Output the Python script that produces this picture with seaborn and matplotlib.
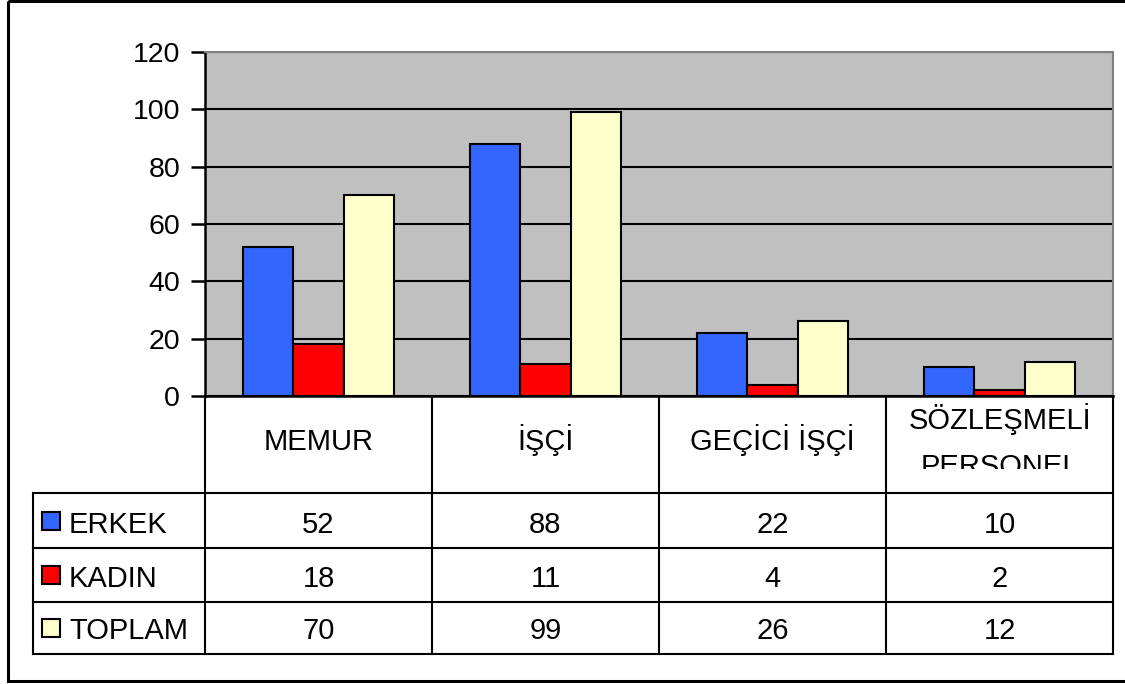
import pandas as pd
import matplotlib.pyplot as plt
import matplotlib.patches as mpatches
import seaborn as sns

# Data
categories = ["MEMUR", "İŞÇİ", "GEÇİCİ İŞÇİ", "SÖZLEŞMELİ PERSONEL"]
series = ["ERKEK", "KADIN", "TOPLAM"]
erkek = [52, 88, 22, 10]
kadin = [18, 11, 4, 2]
toplam = [70, 99, 26, 12]
colors = ["#3366FF", "#FF0000", "#FFFFCC"]
yticks = [0, 20, 40, 60, 80, 100, 120]

values = {"ERKEK": erkek, "KADIN": kadin, "TOPLAM": toplam}
rows = []
for s in series:
    for c, v in zip(categories, values[s]):
        rows.append({"kategori": c, "seri": s, "deger": v})
df = pd.DataFrame(rows)

plt.rcParams["font.family"] = ["Liberation Sans", "DejaVu Sans"]
plt.rcParams["font.size"] = 20

W, H = 1125, 684
fig = plt.figure(figsize=(W / 100, H / 100), dpi=100)

# layout in pixels
pl, pr, pt, pb = 205, 1113, 52, 396
ax = fig.add_axes([pl / W, 1 - pb / H, (pr - pl) / W, (pb - pt) / H])
ax.set_facecolor("#C0C0C0")

sns.barplot(data=df, x="kategori", y="deger", hue="seri", palette=colors,
            width=2 / 3, edgecolor="black", linewidth=1.5, saturation=1,
            legend=False, ax=ax)

ax.set_ylim(0, 120)
ax.set_yticks(yticks)
ax.set_xticks([])
ax.set_xlabel("")
ax.set_ylabel("")
ax.yaxis.grid(True, color="black", linewidth=1.5)
ax.set_axisbelow(True)
ax.tick_params(axis="y", length=10, width=1.8, pad=8, labelsize=20.5)
for side in ["top", "right"]:
    ax.spines[side].set_color("#808080")
    ax.spines[side].set_linewidth(1.5)
ax.spines["left"].set_color("black")
ax.spines["left"].set_linewidth(1.8)
ax.spines["bottom"].set_color("black")
ax.spines["bottom"].set_linewidth(1.8)

# overlay for the data table
ov = fig.add_axes([0, 0, 1, 1])
ov.set_xlim(0, W)
ov.set_ylim(H, 0)
ov.axis("off")
ov.patch.set_alpha(0)

fs = 21
lw = 1.5
leg_left = 33
header_bottom = 493
row_edges = [493, 548, 602, 654]
n = len(categories)
colw = (pr - pl) / n
col_edges = [pl + i * colw for i in range(n + 1)]

# outer border
ov.add_patch(mpatches.Rectangle((8, 1), 1130, 680, fill=False,
                                edgecolor="black", linewidth=2.2))

# vertical lines
for x in col_edges:
    ov.plot([x, x], [pb, row_edges[-1]], color="black", lw=lw)
ov.plot([leg_left, leg_left], [header_bottom, row_edges[-1]], color="black", lw=lw)
# horizontal lines
for y in row_edges:
    ov.plot([leg_left, pr], [y, y], color="black", lw=lw)

# header texts
for i, c in enumerate(categories):
    cx = (col_edges[i] + col_edges[i + 1]) / 2
    words = c.split(" ")
    if c.startswith("SÖZLEŞMELİ"):
        # second line is cut off like in the original
        clip = mpatches.Rectangle((col_edges[i] / W, 1 - 469 / H), colw / W,
                                  (469 - pb) / H, transform=fig.transFigure)
        ov.text(cx, 429, words[0], ha="center", va="baseline", fontsize=fs)
        t = ov.text(cx, 475, words[1], ha="center", va="baseline", fontsize=fs)
        t.set_clip_on(True)
        t.set_clip_path(clip)
    else:
        ov.text(cx, 450, c, ha="center", va="baseline", fontsize=fs)

# data rows
for r, s in enumerate(series):
    y_bottom = row_edges[r + 1]
    base = y_bottom - 15
    ymid = (row_edges[r] + y_bottom) / 2
    ov.add_patch(mpatches.Rectangle((42, ymid - 9), 18, 18, facecolor=colors[r],
                                    edgecolor="black", linewidth=1.5))
    ov.text(69, base, s, ha="left", va="baseline", fontsize=fs)
    for i, v in enumerate(values[s]):
        cx = (col_edges[i] + col_edges[i + 1]) / 2
        ov.text(cx, base, str(v), ha="center", va="baseline", fontsize=fs)

fig.savefig("out.png", dpi=100)
